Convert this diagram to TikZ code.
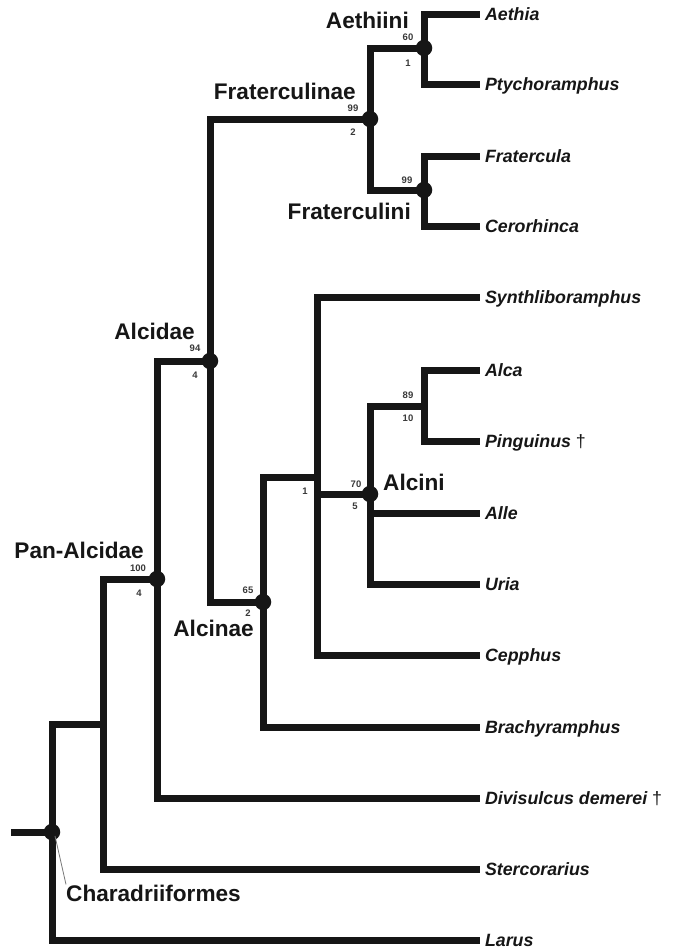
\documentclass[tikz,border=0pt]{standalone}
\usepackage{fontspec}
\setmainfont{Liberation Sans}
\definecolor{ink}{RGB}{22,22,22}
\definecolor{pointer}{RGB}{120,120,120}
\begin{document}
\begin{tikzpicture}[x=1pt,y=-1pt,
  branch/.style={line width=7pt, draw=ink, line join=miter},
  leaf/.style={anchor=west, inner sep=0pt, outer xsep=5pt, outer ysep=0pt,
    text height=12.7pt, text depth=0pt,
    font=\fontsize{17.8}{18}\selectfont\bfseries\itshape, text=ink},
  clade/.style={inner sep=0pt, font=\fontsize{22.6}{23}\selectfont\bfseries, text=ink},
  supp/.style={inner sep=0pt, font=\fontsize{9.5}{10}\selectfont\bfseries, text=ink!85},
  dotnode/.style={circle, fill=ink, minimum size=16.5pt, inner sep=0pt},
  leader/.style={draw=pointer, line width=0.8pt}
]
\useasboundingbox[fill=white] (0,0) rectangle (674,951);

% internal nodes
\coordinate (rootstart) at (11,832);
\coordinate (nchar) at (52,832);
\coordinate (nstem) at (103,724);
\coordinate (npan) at (157,579);
\coordinate (nalcidae) at (210,361);
\coordinate (nfrat) at (370,119);
\coordinate (naeth) at (424,48);
\coordinate (nfratini) at (424,190);
\coordinate (nalcinae) at (263,602);
\coordinate (nmid) at (317,477);
\coordinate (nalcini) at (370,494);
\coordinate (nalca) at (424,406);

% leaves
\node[leaf] (aethia) at (480,14) {Aethia};
\node[leaf] (ptycho) at (480,84) {Ptychoramphus};
\node[leaf] (fratercula) at (480,156) {Fratercula};
\node[leaf] (cerorhinca) at (480,226) {Cerorhinca};
\node[leaf] (synth) at (480,297) {Synthliboramphus};
\node[leaf] (alca) at (480,370) {Alca};
\node[leaf] (pinguinus) at (480,441) {Pinguinus {\normalfont †}};
\node[leaf] (alle) at (480,513) {Alle};
\node[leaf] (uria) at (480,584) {Uria};
\node[leaf] (cepphus) at (480,655) {Cepphus};
\node[leaf] (brachy) at (480,727) {Brachyramphus};
\node[leaf] (divis) at (480,798) {Divisulcus demerei {\normalfont †}};
\node[leaf] (sterco) at (480,869) {Stercorarius};
\node[leaf] (larus) at (480,940) {Larus};

% branches
\draw[branch] (rootstart) -- (nchar);
\draw[branch] (nchar) |- (nstem);
\draw[branch] (nchar) |- (larus.west);
\draw[branch] (nstem) |- (npan);
\draw[branch] (nstem) |- (sterco.west);
\draw[branch] (npan) |- (nalcidae);
\draw[branch] (npan) |- (divis.west);
\draw[branch] (nalcidae) |- (nfrat);
\draw[branch] (nalcidae) |- (nalcinae);
\draw[branch] (nfrat) |- (naeth);
\draw[branch] (nfrat) |- (nfratini);
\draw[branch] (naeth) |- (aethia.west);
\draw[branch] (naeth) |- (ptycho.west);
\draw[branch] (nfratini) |- (fratercula.west);
\draw[branch] (nfratini) |- (cerorhinca.west);
\draw[branch] (nalcinae) |- (nmid);
\draw[branch] (nalcinae) |- (brachy.west);
\draw[branch] (nmid) |- (synth.west);
\draw[branch] (nmid) |- (nalcini);
\draw[branch] (nmid) |- (cepphus.west);
\draw[branch] (nalcini) |- (nalca);
\draw[branch] (nalcini) |- (alle.west);
\draw[branch] (nalcini) |- (uria.west);
\draw[branch] (nalca) |- (alca.west);
\draw[branch] (nalca) |- (pinguinus.west);

% clade dots
\node[dotnode] (dchar) at (nchar) {};
\node[dotnode] (dpan) at (npan) {};
\node[dotnode] (dalcidae) at (nalcidae) {};
\node[dotnode] (dfrat) at (nfrat) {};
\node[dotnode] (daeth) at (naeth) {};
\node[dotnode] (dfratini) at (nfratini) {};
\node[dotnode] (dalcinae) at (nalcinae) {};
\node[dotnode] (dalcini) at (nalcini) {};

% clade names
\node[clade, anchor=base east] (laeth) at (409,28) {Aethiini};
\node[clade, anchor=base east] (lfrat) at (356,99) {Fraterculinae};
\node[clade, anchor=base east] (lfratini) at (411,219) {Fraterculini};
\node[clade, anchor=base east] (lalcidae) at (195,339) {Alcidae};
\node[clade, anchor=base east] (lpan) at (144,558) {Pan-Alcidae};
\node[clade, anchor=base east] (lalcinae) at (254,636) {Alcinae};
\node[clade, anchor=base west] (lalcini) at (383,490) {Alcini};
\node[clade, anchor=base west] (lchar) at (66,901) {Charadriiformes};
\draw[leader] (dchar.center) ++(3,4) coordinate (cstart) (cstart) -- (lchar.north west);

% support values
\node[supp] (s60) at (408,37) {60};
\node[supp] (s1a) at (408,63) {1};
\node[supp] (s99a) at (353,108) {99};
\node[supp] (s2a) at (353,132) {2};
\node[supp] (s99b) at (407,180) {99};
\node[supp] (s94) at (195,348) {94};
\node[supp] (s4a) at (195,375) {4};
\node[supp] (s100) at (138,568) {100};
\node[supp] (s4b) at (139,593) {4};
\node[supp] (s65) at (248,590) {65};
\node[supp] (s2b) at (248,613) {2};
\node[supp] (s1b) at (305,491) {1};
\node[supp] (s70) at (356,484) {70};
\node[supp] (s5) at (355,506) {5};
\node[supp] (s89) at (408,395) {89};
\node[supp] (s10) at (408,418) {10};
\end{tikzpicture}
\end{document}
